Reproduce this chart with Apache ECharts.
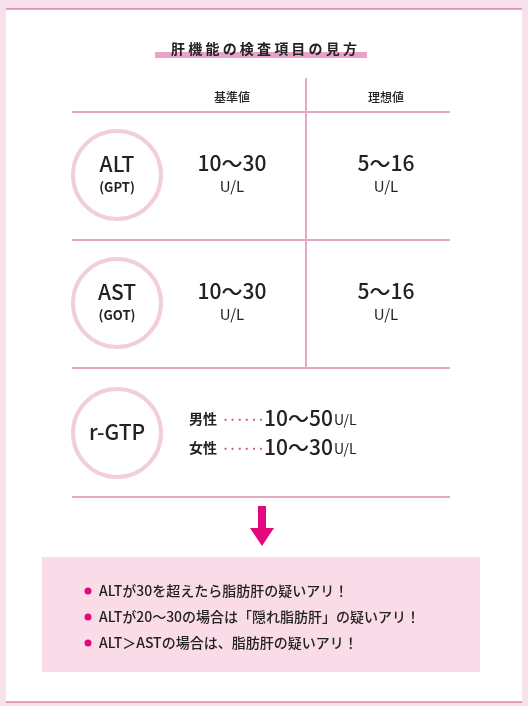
<!DOCTYPE html>
<html><head><meta charset="utf-8">
<script src="https://cdn.jsdelivr.net/npm/echarts@6/dist/echarts.min.js"></script>
<style>html,body{margin:0;padding:0;background:#f9e1ec}#c{width:528px;height:706px}</style>
</head><body><div id="c"></div>
<script>
var title = '肝機能の検査項目の見方';
var headers = ['基準値', '理想値'];
var items = [['ALT', '(GPT)'], ['AST', '(GOT)'], ['r-GTP', '']];
var baseValues = ['10～30', '10～30'];
var idealValues = ['5～16', '5～16'];
var unit = 'U/L';
var genderLabels = ['男性', '女性'];
var genderValues = ['10～50', '10～30'];
var notes = ['ALTが30を超えたら脂肪肝の疑いアリ！', 'ALTが20～30の場合は「隠れ脂肪肝」の疑いアリ！', 'ALT＞ASTの場合は、脂肪肝の疑いアリ！'];

var F = '"Noto Sans CJK JP","Noto Sans",sans-serif';
var lineC = '#e3a8c8', ink = '#222';
var g = [];
g.push({type:'rect', shape:{x:6,y:9,width:516,height:693}, style:{fill:'#fff'}});
g.push({type:'line', shape:{x1:6,y1:9,x2:522,y2:9}, style:{stroke:'#c0508a',lineWidth:1}});
g.push({type:'line', shape:{x1:6,y1:702,x2:522,y2:702}, style:{stroke:'#c0508a',lineWidth:1}});
g.push({type:'rect', shape:{x:155,y:52,width:212,height:6}, style:{fill:'#e9a3c4'}});
g.push({type:'text', x:264, y:49, style:{text:title.split('').join(' '), font:'bold 14px '+F, fill:ink, align:'center', verticalAlign:'middle'}});
[112,240,368,497].forEach(function(y){
  g.push({type:'line', shape:{x1:72,y1:y,x2:450,y2:y}, style:{stroke:lineC,lineWidth:2}});
});
g.push({type:'line', shape:{x1:306,y1:78,x2:306,y2:368}, style:{stroke:lineC,lineWidth:2}});
var colX = [232, 386];
headers.forEach(function(h,i){
  g.push({type:'text', x:colX[i], y:97, style:{text:h, font:'500 12px '+F, fill:ink, align:'center', verticalAlign:'middle'}});
});
var rowY = [175, 303, 433];
items.forEach(function(it,i){
  var cy = rowY[i];
  g.push({type:'circle', shape:{cx:117,cy:cy,r:44}, style:{fill:'#fff',stroke:'#f2cde0',lineWidth:4}});
  if (it[1]) {
    g.push({type:'text', x:117, y:cy-11, style:{text:it[0], font:'500 21px '+F, fill:ink, align:'center', verticalAlign:'middle'}});
    g.push({type:'text', x:117, y:cy+12, style:{text:it[1], font:'bold 13px '+F, fill:ink, align:'center', verticalAlign:'middle'}});
  } else {
    g.push({type:'text', x:117, y:cy-1, style:{text:it[0], font:'500 21px '+F, fill:ink, align:'center', verticalAlign:'middle'}});
  }
});
[baseValues, idealValues].forEach(function(arr,c){
  arr.forEach(function(v,i){
    var cy = rowY[i];
    g.push({type:'text', x:colX[c], y:cy-12, style:{text:v, font:'500 21px '+F, fill:ink, align:'center', verticalAlign:'middle'}});
    g.push({type:'text', x:colX[c], y:cy+11, style:{text:unit, font:'15px '+F, fill:ink, align:'center', verticalAlign:'middle'}});
  });
});
genderLabels.forEach(function(l,i){
  var y = 419 + i*29;
  g.push({type:'text', x:189, y:y, style:{text:l, font:'bold 14px '+F, fill:ink, align:'left', verticalAlign:'middle'}});
  g.push({type:'text', x:222, y:y, style:{text:'······', font:'bold 12px '+F, fill:'#d94e95', align:'left', verticalAlign:'middle'}});
  g.push({type:'text', x:264, y:y-1, style:{text:genderValues[i], font:'500 21px '+F, fill:ink, align:'left', verticalAlign:'middle'}});
  g.push({type:'text', x:334, y:y+1, style:{text:unit, font:'14px '+F, fill:ink, align:'left', verticalAlign:'middle'}});
});
g.push({type:'polygon', shape:{points:[[258,506],[266,506],[266,528],[274,528],[262,546],[250,528],[258,528]]}, style:{fill:'#e4087e'}});
g.push({type:'rect', shape:{x:42,y:557,width:438,height:115}, style:{fill:'#f9dce8'}});
notes.forEach(function(n,i){
  var y = 591 + i*26;
  g.push({type:'circle', shape:{cx:88,cy:y,r:3.5}, style:{fill:'#e4087e'}});
  g.push({type:'text', x:99, y:y, style:{text:n, font:'500 14px '+F, fill:ink, align:'left', verticalAlign:'middle'}});
});
var chart = echarts.init(document.getElementById('c'));
chart.setOption({backgroundColor:'#f9e1ec', graphic:{elements:g}});
</script></body></html>
